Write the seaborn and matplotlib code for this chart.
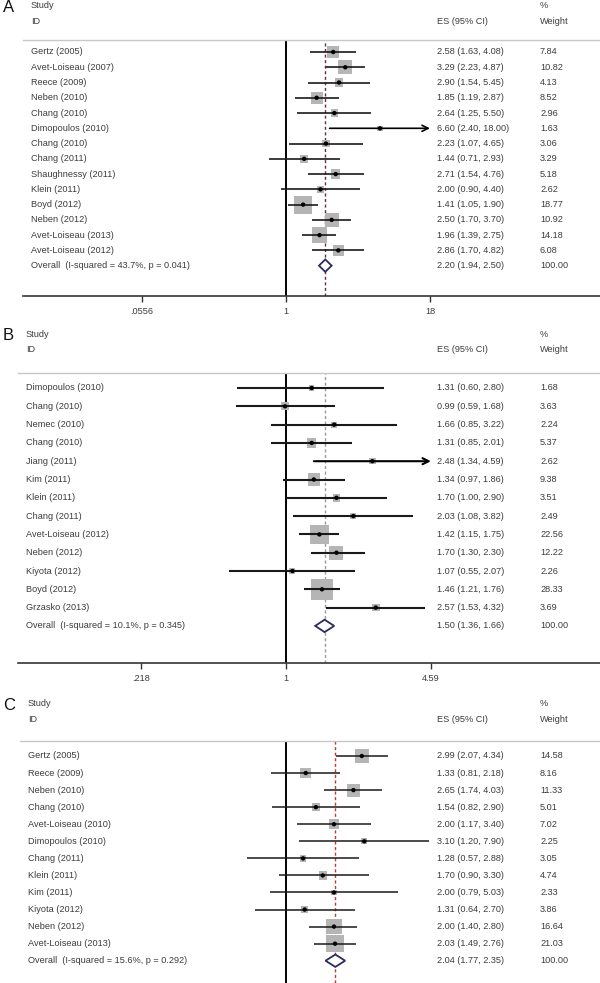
import numpy as np
import pandas as pd
import seaborn as sns
import matplotlib
matplotlib.use("Agg")
import matplotlib.pyplot as plt
import matplotlib.transforms as mtransforms

sns.set_style("white")
plt.rcParams["font.family"] = ["Liberation Sans", "DejaVu Sans"]

# ---- data ----
studies_a = ["Gertz (2005)", "Avet-Loiseau (2007)", "Reece (2009)", "Neben (2010)", "Chang (2010)",
             "Dimopoulos (2010)", "Chang (2010)", "Chang (2011)", "Shaughnessy (2011)", "Klein (2011)",
             "Boyd (2012)", "Neben (2012)", "Avet-Loiseau (2013)", "Avet-Loiseau (2012)"]
es_a = [2.58, 3.29, 2.90, 1.85, 2.64, 6.60, 2.23, 1.44, 2.71, 2.00, 1.41, 2.50, 1.96, 2.86]
lo_a = [1.63, 2.23, 1.54, 1.19, 1.25, 2.40, 1.07, 0.71, 1.54, 0.90, 1.05, 1.70, 1.39, 1.70]
hi_a = [4.08, 4.87, 5.45, 2.87, 5.50, 18.00, 4.65, 2.93, 4.76, 4.40, 1.90, 3.70, 2.75, 4.82]
wt_a = [7.84, 10.82, 4.13, 8.52, 2.96, 1.63, 3.06, 3.29, 5.18, 2.62, 18.77, 10.92, 14.18, 6.08]
overall_a = (2.20, 1.94, 2.50, 100.00)
label_a = "Overall  (I-squared = 43.7%, p = 0.041)"
ticks_a = [0.0556, 1, 18]
ticklabels_a = [".0556", "1", "18"]

studies_b = ["Dimopoulos (2010)", "Chang (2010)", "Nemec (2010)", "Chang (2010)", "Jiang (2011)",
             "Kim (2011)", "Klein (2011)", "Chang (2011)", "Avet-Loiseau (2012)", "Neben (2012)",
             "Kiyota (2012)", "Boyd (2012)", "Grzasko (2013)"]
es_b = [1.31, 0.99, 1.66, 1.31, 2.48, 1.34, 1.70, 2.03, 1.42, 1.70, 1.07, 1.46, 2.57]
lo_b = [0.60, 0.59, 0.85, 0.85, 1.34, 0.97, 1.00, 1.08, 1.15, 1.30, 0.55, 1.21, 1.53]
hi_b = [2.80, 1.68, 3.22, 2.01, 4.59, 1.86, 2.90, 3.82, 1.75, 2.30, 2.07, 1.76, 4.32]
wt_b = [1.68, 3.63, 2.24, 5.37, 2.62, 9.38, 3.51, 2.49, 22.56, 12.22, 2.26, 28.33, 3.69]
overall_b = (1.50, 1.36, 1.66, 100.00)
label_b = "Overall  (I-squared = 10.1%, p = 0.345)"
ticks_b = [0.218, 1, 4.59]
ticklabels_b = [".218", "1", "4.59"]

studies_c = ["Gertz (2005)", "Reece (2009)", "Neben (2010)", "Chang (2010)", "Avet-Loiseau (2010)",
             "Dimopoulos (2010)", "Chang (2011)", "Klein (2011)", "Kim (2011)", "Kiyota (2012)",
             "Neben (2012)", "Avet-Loiseau (2013)"]
es_c = [2.99, 1.33, 2.65, 1.54, 2.00, 3.10, 1.28, 1.70, 2.00, 1.31, 2.00, 2.03]
lo_c = [2.07, 0.81, 1.74, 0.82, 1.17, 1.20, 0.57, 0.90, 0.79, 0.64, 1.40, 1.49]
hi_c = [4.34, 2.18, 4.03, 2.90, 3.40, 7.90, 2.88, 3.30, 5.03, 2.70, 2.80, 2.76]
wt_c = [14.58, 8.16, 11.33, 5.01, 7.02, 2.25, 3.05, 4.74, 2.33, 3.86, 16.64, 21.03]
overall_c = (2.04, 1.77, 2.35, 100.00)
label_c = "Overall  (I-squared = 15.6%, p = 0.292)"

W, H = 600, 983
fig = plt.figure(figsize=(6, 9.83), dpi=100)
TXT = "#3c3c3c"
FS = 6.6


def panel(letter, studies, es, lo, hi, wt, overall, ov_label, ticks, ticklabels,
          px, ax_px, row0, step, line_px, bottom_px, head_y, sq_px, dash_col, clip, ci_lw):
    # px: pixels per ln unit; ax_px: (left, right) of axes in px; row0: first row y px
    n = len(studies)
    top_idx = (line_px - row0) / step
    bot_idx = (bottom_px - row0) / step
    ax = fig.add_axes([ax_px[0] / W, 1 - bottom_px / H, (ax_px[1] - ax_px[0]) / W, (bottom_px - line_px) / H])
    ax.set_xscale("log")
    ax.set_xlim(np.exp((ax_px[0] - 286) / px), np.exp((ax_px[1] - 286) / px))
    ax.set_ylim(bot_idx, top_idx)

    df = pd.DataFrame({"study": studies, "es": es, "lo": lo, "hi": hi, "wt": wt, "row": np.arange(n)})

    # reference lines
    ax.axvline(1, color="black", lw=1.4, zorder=1)
    ax.axvline(overall[0], color=dash_col, lw=1.0, ls=(0, (2.2, 1.8)), zorder=1)

    # weight squares (area proportional to weight)
    k = (sq_px * 0.72) ** 2
    sns.scatterplot(data=df, x="es", y="row", size="wt", sizes=(k * min(wt), k * max(wt)),
                    marker="s", color="#b5b5b5", edgecolor="none", legend=False, ax=ax, zorder=2)
    # confidence intervals
    for _, r in df.iterrows():
        if clip is not None and r["hi"] >= clip:
            ax.annotate("", xy=(r["hi"], r["row"]), xytext=(r["lo"], r["row"]),
                        arrowprops=dict(arrowstyle="->", lw=ci_lw, color="black", mutation_scale=11,
                                        shrinkA=0, shrinkB=0), zorder=3)
        else:
            ax.hlines(r["row"], r["lo"], r["hi"], color="#1a1a1a", lw=ci_lw, zorder=3)
    sns.scatterplot(data=df, x="es", y="row", color="black", s=10, edgecolor="none",
                    legend=False, ax=ax, zorder=4)

    # overall diamond
    e, l, h, _ = overall
    hh = 6.2 / step
    ax.fill([l, e, h, e, l], [n, n - hh, n, n + hh, n], facecolor="white",
            edgecolor="#2b2b60", lw=1.3, zorder=3)

    # axes styling
    for s in ["left", "right"]:
        ax.spines[s].set_visible(False)
    ax.spines["top"].set_color("#c8c8c8")
    ax.spines["top"].set_linewidth(1.0)
    ax.set_yticks([])
    ax.set_xlabel("")
    ax.set_ylabel("")
    if ticks is None:
        ax.spines["bottom"].set_visible(False)
        ax.set_xticks([])
        ax.set_xticks([], minor=True)
    else:
        ax.spines["bottom"].set_color("#333333")
        ax.spines["bottom"].set_linewidth(1.2)
        ax.set_xticks(ticks)
        ax.set_xticklabels(ticklabels, fontsize=FS, color=TXT)
        ax.set_xticks([], minor=True)
        ax.tick_params(axis="x", direction="out", length=4, width=1, color="#333333", pad=4, bottom=True)

    # text columns
    tr = mtransforms.blended_transform_factory(fig.transFigure, ax.transData)
    lab_x = (ax_px[0] + 8) / W
    for i in range(n):
        fig.text(lab_x, i, studies[i], transform=tr, fontsize=FS, color=TXT, va="center")
        fig.text(437 / W, i, f"{es[i]:.2f} ({lo[i]:.2f}, {hi[i]:.2f})", transform=tr,
                 fontsize=FS, color=TXT, va="center")
        fig.text(540 / W, i, f"{wt[i]:.2f}", transform=tr, fontsize=FS, color=TXT, va="center")
    fig.text(lab_x, n, ov_label, transform=tr, fontsize=FS, color=TXT, va="center")
    fig.text(437 / W, n, f"{e:.2f} ({l:.2f}, {h:.2f})", transform=tr, fontsize=FS, color=TXT, va="center")
    fig.text(540 / W, n, f"{overall[3]:.2f}", transform=tr, fontsize=FS, color=TXT, va="center")

    # headers
    fig.text(lab_x, 1 - head_y / H, "Study", fontsize=FS, color=TXT, va="center")
    fig.text(lab_x, 1 - (head_y + 16) / H, "ID", fontsize=FS, color=TXT, va="center")
    fig.text(540 / W, 1 - head_y / H, "%", fontsize=FS, color=TXT, va="center")
    fig.text(437 / W, 1 - (head_y + 16) / H, "ES (95% CI)", fontsize=FS, color=TXT, va="center")
    fig.text(540 / W, 1 - (head_y + 16) / H, "Weight", fontsize=FS, color=TXT, va="center")
    fig.text(3 / W, 1 - (head_y + 1) / H, letter, fontsize=12, color="#111111", va="center")
    return ax


panel("A", studies_a, es_a, lo_a, hi_a, wt_a, overall_a, label_a, ticks_a, ticklabels_a,
      px=49.8, ax_px=(23, 600), row0=52, step=15.26, line_px=40, bottom_px=296, head_y=6,
      sq_px=4.2, dash_col="#5e2f4f", clip=18, ci_lw=1.2)
panel("B", studies_b, es_b, lo_b, hi_b, wt_b, overall_b, label_b, ticks_b, ticklabels_b,
      px=95.1, ax_px=(18, 600), row0=388, step=18.3, line_px=373, bottom_px=663, head_y=334,
      sq_px=4.0, dash_col="#9a9a9a", clip=4.59, ci_lw=1.5)
panel("C", studies_c, es_c, lo_c, hi_c, wt_c, overall_c, label_c, None, None,
      px=69.2, ax_px=(20, 600), row0=756, step=17.06, line_px=741, bottom_px=983, head_y=704,
      sq_px=3.8, dash_col="#c0392b", clip=None, ci_lw=1.1)

fig.savefig("out.png", dpi=100)
